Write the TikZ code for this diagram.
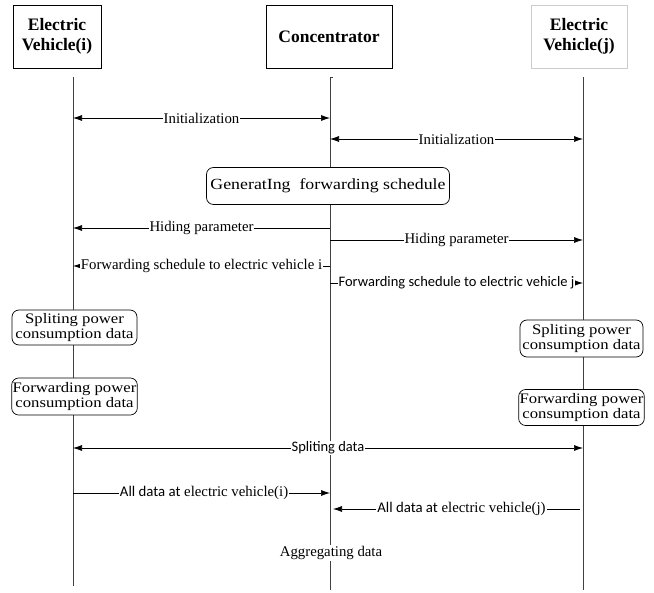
\documentclass[tikz,border=0pt]{standalone}
\usepackage{fontspec}
\setmainfont{Liberation Serif}
\newfontfamily\calib{Carlito}
\newfontfamily\wideserif[FakeStretch=1.15]{Liberation Serif}
\usetikzlibrary{arrows.meta}
\begin{document}
\begin{tikzpicture}[x=1pt,y=-1pt,
  header/.style={draw, line width=0.7pt, minimum width=88pt, minimum height=63pt,
    align=center, font=\bfseries\fontsize{17.5}{20}\selectfont, inner sep=2pt},
  life/.style={draw=black!75, line width=0.8pt},
  tip/.tip={Latex[length=9pt,width=6pt]},
  msg/.style={line width=0.7pt, -tip},
  dmsg/.style={line width=0.7pt, tip-tip},
  lbl/.style={fill=white, inner sep=1pt, font=\fontsize{14.8}{16}\selectfont},
  slbl/.style={fill=white, inner sep=1pt, font=\calib\fontsize{14.5}{16}\selectfont},
  act/.style={draw, rounded corners=7pt, line width=0.7pt, fill=white, align=center,
    font=\wideserif\fontsize{14.5}{14.5}\selectfont, inner sep=1pt}]
\useasboundingbox (0,0) rectangle (654,593);

% participants
\node[header] (evi) at (57,36.5) {Electric\\Vehicle(i)};
\node[header, minimum width=126pt] (con) at (329,36.5) {Concentrator};
\node[header, draw=black!20, minimum width=96pt] (evj) at (579,36.5) {Electric\\Vehicle(j)};

% lifelines
\coordinate (la) at (73,77);  \coordinate (lb) at (73,586);
\coordinate (ca) at (330,77); \coordinate (cb) at (330,590);
\coordinate (ra) at (583,77); \coordinate (rb) at (583,590);
\draw[life] (la) -- (lb);
\draw[life] (ca) -- (cb);
\draw[life] (ca) -- ++(3,0);
\draw[life] (ra) -- (rb);

% lifeline anchor points for messages
\foreach \y in {118,139,228,240,266,283,448,493,509} {
  \coordinate (L\y) at (73,\y);
  \coordinate (C\y) at (330,\y);
  \coordinate (R\y) at (583,\y);
}
\coordinate (C509s) at (333,509);
\coordinate (R509s) at (580,509);

% initialization
\draw[dmsg] (L118) -- node[lbl] (t1) {Initialization} (C118);
\draw[dmsg] (C139) -- node[lbl] (t2) {Initialization} (R139);

% schedule generation
\node[act, minimum width=243pt, minimum height=37pt, font=\wideserif\fontsize{15.5}{17}\selectfont] (gen) at (328,186) {GeneratIng\ \ forwarding schedule};

% hiding parameter
\draw[msg] (C228) -- node[lbl, pos=0.5] (t3) {Hiding parameter} (L228);
\draw[msg] (C240) -- node[lbl, pos=0.5] (t4) {Hiding parameter} (R240);

% forwarding schedules
\draw[msg] (C266) -- node[lbl, pos=0.5] (t5) {Forwarding schedule to electric vehicle i} (L266);
\draw[msg] (C283) -- node[slbl, pos=0.5] (t6) {Forwarding schedule to electric vehicle j} (R283);

% local processing
\node[act, minimum width=125pt, minimum height=35pt] (spi) at (74.5,327.5) {Spliting power\\consumption data};
\node[act, minimum width=125pt, minimum height=37pt] (fwi) at (74.5,396.5) {Forwarding power\\consumption data};
\node[act, minimum width=123pt, minimum height=37pt] (spj) at (581.5,338.5) {Spliting power\\consumption data};
\node[act, minimum width=123pt, minimum height=36pt] (fwj) at (581.5,407.5) {Forwarding power\\consumption data};

% data exchange
\draw[dmsg] (L448) -- node[slbl, pos=0.5] (t7) {Spliting data} (R448);
\draw[msg] (L493) -- node[lbl, pos=0.51] (t8) {{\calib All data at} electric vehicle(i)} (C493);
\draw[msg] (R509s) -- node[lbl, pos=0.48] (t9) {{\calib All data at} electric vehicle(j)} (C509s);

% aggregation
\node[font=\fontsize{14.8}{16}\selectfont, fill=white, inner sep=1pt] (agg) at (331,553) {Aggregating data};
\end{tikzpicture}
\end{document}
